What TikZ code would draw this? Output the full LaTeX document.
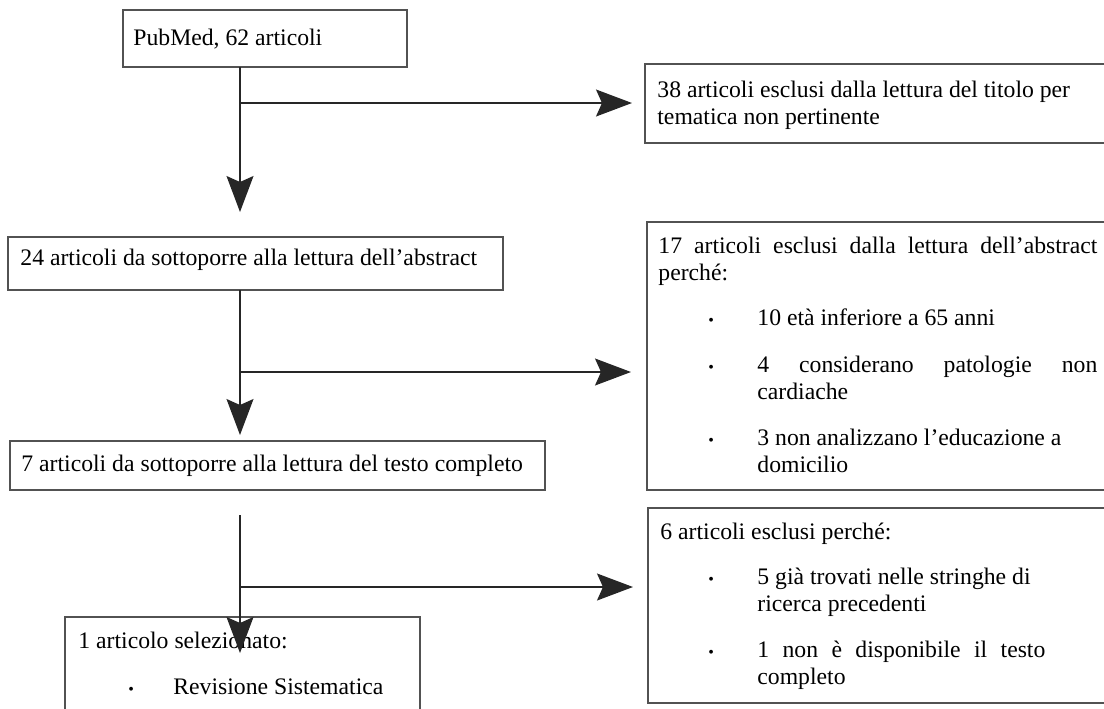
\documentclass[tikz,border=0pt]{standalone}
\usepackage{fontspec}
\setmainfont{Liberation Serif}
\usetikzlibrary{arrows.meta}
\begin{document}
\begin{tikzpicture}[x=0.5pt,y=-0.5pt,
  frame/.style={draw=black!68, line width=0.75pt, anchor=north west, inner sep=0pt, outer sep=0pt},
  label/.style={anchor=base west, inner sep=0pt, font=\fontsize{11.85pt}{13.7pt}\selectfont},
  dot/.style={anchor=base west, inner sep=0pt, font=\fontsize{8pt}{8pt}\selectfont},
  flow/.style={draw=black!85, line width=0.65pt},
  tip/.style={-{Stealth[length=18pt,width=13.5pt,inset=3pt]}}]
\useasboundingbox (0,0) rectangle (1104,708);
\clip (0,0) rectangle (1104,708);

% boxes
\node[frame, minimum width=142pt, minimum height=28.5pt] (pub) at (123,10) {};
\node[frame, minimum width=240pt, minimum height=39.5pt] (ex1) at (645,64) {};
\node[frame, minimum width=247.5pt, minimum height=26.5pt] (abs) at (8,237) {};
\node[frame, minimum width=240pt, minimum height=134pt] (ex2) at (647,222) {};
\node[frame, minimum width=267.5pt, minimum height=24.5pt] (full) at (10,441) {};
\node[frame, minimum width=240pt, minimum height=97.5pt] (ex3) at (648,508) {};
\node[frame, minimum width=177.5pt, minimum height=60pt] (sel) at (65,617) {};

% texts
\node[label] (tpub) at (133,45) {PubMed, 62 articoli};
\node[label] (tex1a) at (657,97) {38 articoli esclusi dalla lettura del titolo per};
\node[label] (tex1b) at (657,124) {tematica non pertinente};
\node[label] (tabs) at (20,265) {24 articoli da sottoporre alla lettura dell'abstract};
\node[label] (tex2a) at (658,253) {\makebox[219.5pt][s]{17 articoli esclusi dalla lettura dell'abstract}};
\node[label] (tex2b) at (658,280) {perché:};
\node[dot] (d21) at (708,325) {\textbullet};
\node[label] (tex2c) at (757,325) {10 età inferiore a 65 anni};
\node[dot] (d22) at (708,372) {\textbullet};
\node[label] (tex2d) at (757,372) {\makebox[170pt][s]{4 considerano patologie non}};
\node[label] (tex2e) at (757,399) {cardiache};
\node[dot] (d23) at (708,445) {\textbullet};
\node[label] (tex2f) at (757,445) {3 non analizzano l'educazione a};
\node[label] (tex2g) at (757,472) {domicilio};
\node[label] (tfull) at (21,471) {7 articoli da sottoporre alla lettura del testo completo};
\node[label] (tex3a) at (660,539) {6 articoli esclusi perché:};
\node[dot] (d31) at (708,584) {\textbullet};
\node[label] (tex3b) at (757,584) {5 già trovati nelle stringhe di};
\node[label] (tex3c) at (757,611) {ricerca precedenti};
\node[dot] (d32) at (708,657) {\textbullet};
\node[label] (tex3d) at (757,657) {\makebox[144pt][s]{1 non è disponibile il testo}};
\node[label] (tex3e) at (757,684) {completo};
\node[label] (tsel) at (78,648) {1 articolo selezionato:};
\node[dot] (d41) at (128,694) {\textbullet};
\node[label] (tsel2) at (173,694) {Revisione Sistematica};

% connectors
\coordinate (t1) at (240,212);
\coordinate (j1) at (240,103);
\coordinate (e1) at (632,103);
\draw[flow, tip] (pub.south -| t1) -- (t1);
\draw[flow, tip] (j1) -- (e1);

\coordinate (t2) at (240,435);
\coordinate (j2) at (240,372);
\coordinate (e2) at (631,372);
\draw[flow, tip] (abs.south -| t1) -- (t2);
\draw[flow, tip] (j2) -- (e2);

\coordinate (s3) at (240,515);
\coordinate (t3) at (240,653);
\coordinate (j3) at (240,587);
\coordinate (e3) at (633,587);
\draw[flow, tip] (s3) -- (t3);
\draw[flow, tip] (j3) -- (e3);
\end{tikzpicture}
\end{document}
